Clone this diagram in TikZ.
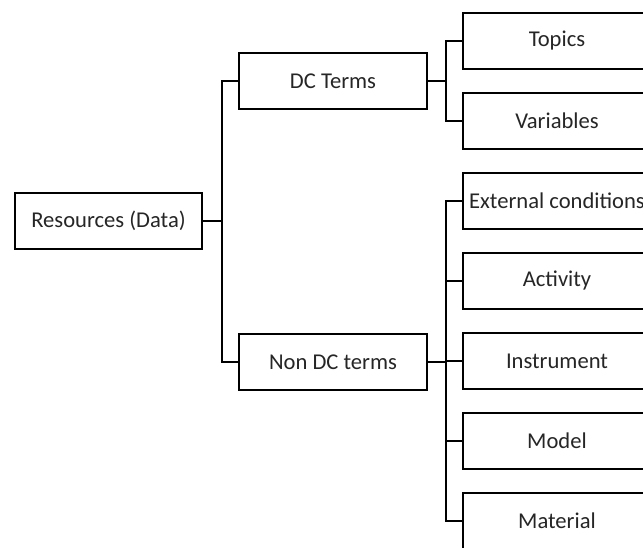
\documentclass[tikz,border=0pt]{standalone}
\usepackage{fontspec}
\setmainfont{Carlito}
\usetikzlibrary{positioning,calc}
\tikzset{
	>=stealth
}

\begin{document}
\begin{tikzpicture}[
x = 1pt, y = -1pt,
line width = 2pt,
node distance = 22pt,
every node/.style = {
	font = \fontsize{22.6}{27}\selectfont,
	text = black!85
},
term/.style = {
	draw,
	fill = white,
	inner sep = 0pt,
	minimum height = 56pt,
	minimum width = 188pt
}
]
\useasboundingbox (0,0) rectangle (643,548);
\clip (0,0) rectangle (643,548);

\node (root) [term, minimum width = 187pt] at (108.5,221) {Resources (Data)};
\node (dcterms) [term] at (333,81) {DC Terms};
\node (nondc) [term] at (333,362) {Non DC terms};

\node (topics) [term] at (557,41) {Topics};
\node (variables) [term, below = of topics] {Variables};

\node (external) [term] at (557,201) {External conditions};
\node (activity) [term, below = of external] {Activity};
\node (instrument) [term, below = of activity] {Instrument};
\node (model) [term, below = of instrument] {Model};
\node (material) [term, below = of model] {Material};

\coordinate (rootfork) at ([xshift = 19pt]root.east);
\coordinate (dcfork) at ([xshift = 18pt]dcterms.east);
\coordinate (nondcfork) at ([xshift = 18pt]nondc.east);

\draw (root.east) -- (rootfork);
\draw (dcterms.west) -| (rootfork) |- (nondc.west);

\draw (dcterms.east) -- (dcfork);
\draw (topics.west) -| (dcfork) |- (variables.west);

\draw (nondc.east) -- (nondcfork);
\draw (external.west) -| (nondcfork) |- (material.west);
\foreach \n in {activity, instrument, model}
	\draw (nondcfork |- \n.west) -- (\n.west);

\end{tikzpicture}
\end{document}
